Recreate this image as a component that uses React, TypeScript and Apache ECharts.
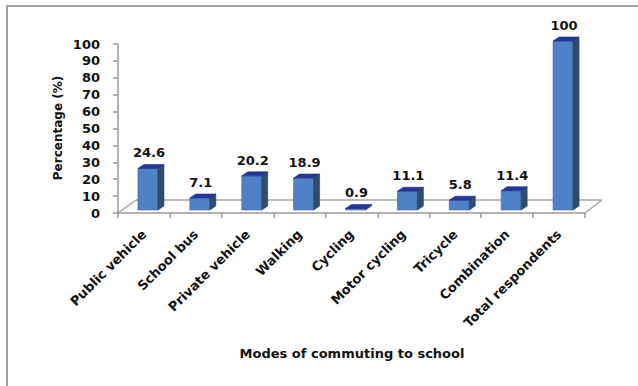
import React, { useEffect, useRef } from "react";
import * as echarts from "echarts";

const categories = [
  "Public vehicle",
  "School bus",
  "Private vehicle",
  "Walking",
  "Cycling",
  "Motor cycling",
  "Tricycle",
  "Combination",
  "Total respondents",
];
const percentages = [24.6, 7.1, 20.2, 18.9, 0.9, 11.1, 5.8, 11.4, 100];
const yTicks = { min: 0, max: 100, interval: 10 };

const FONT = "DejaVu Sans";

export default function App() {
  const ref = useRef<HTMLDivElement>(null);
  useEffect(() => {
    if (!ref.current) return;
    const chart = echarts.init(ref.current, null, { renderer: "svg" });

    const barW = 20;
    const dX = 6;
    const dY = -4;
    const frontX = -6;
    const frontY = -3;

    const option: any = {
      animation: false,
      backgroundColor: "#ffffff",
      grid: { left: 118, right: 53, top: 44, bottom: 173, containLabel: false },
      xAxis: {
        type: "category",
        data: categories,
        boundaryGap: true,
        axisLine: { show: true, lineStyle: { color: "#9a9a9a", width: 1.5 } },
        axisTick: { show: true, interval: 0, length: 5, lineStyle: { color: "#9a9a9a", width: 1.5 } },
        axisLabel: {
          interval: 0,
          rotate: 45,
          margin: 19,
          fontFamily: FONT,
          fontWeight: "bold",
          fontSize: 13,
          color: "#111111",
        },
      },
      yAxis: {
        type: "value",
        min: yTicks.min,
        max: yTicks.max,
        interval: yTicks.interval,
        splitLine: { show: false },
        axisLine: { show: true, lineStyle: { color: "#9a9a9a", width: 1.5 } },
        axisTick: { show: true, length: 5, lineStyle: { color: "#9a9a9a", width: 1.5 } },
        axisLabel: {
          margin: 18,
          fontFamily: FONT,
          fontWeight: "bold",
          fontSize: 13,
          color: "#111111",
        },
      },
      graphic: [
        {
          type: "rect",
          shape: { x: 7, y: 6, width: 660, height: 420 },
          style: { fill: "none", stroke: "#a0a0a0", lineWidth: 2 },
          silent: true,
        },
        {
          type: "text",
          x: 352,
          y: 353,
          style: {
            text: "Modes of commuting to school",
            font: `bold 13px "${FONT}"`,
            fill: "#111111",
            align: "center",
            verticalAlign: "middle",
          },
        },
        {
          type: "text",
          x: 58,
          y: 128,
          rotation: Math.PI / 2,
          style: {
            text: "Percentage (%)",
            font: `bold 12px "${FONT}"`,
            fill: "#111111",
            align: "center",
            verticalAlign: "middle",
          },
        },
      ],
      series: [
        {
          type: "custom",
          z: 1,
          data: [[0]],
          silent: true,
          renderItem: (params: any, api: any) => {
            const c0 = api.coord([0, 0]);
            const bw = api.size([1, 0])[0];
            const left = c0[0] - bw / 2;
            const right = left + bw * categories.length;
            const y0 = c0[1];
            const ls = { stroke: "#a6a6a6", lineWidth: 1.5, fill: "none" };
            return {
              type: "group",
              children: [
                { type: "line", shape: { x1: left + 18, y1: y0 - 13, x2: right + 17, y2: y0 - 13 }, style: ls },
                { type: "line", shape: { x1: left, y1: y0, x2: left + 18, y2: y0 - 13 }, style: ls },
                { type: "line", shape: { x1: right, y1: y0, x2: right + 17, y2: y0 - 13 }, style: ls },
              ],
            };
          },
        },
        {
          type: "custom",
          z: 2,
          data: percentages.map((v, i) => [i, v]),
          encode: { x: 0, y: 1 },
          renderItem: (params: any, api: any) => {
            const i = api.value(0);
            const v = api.value(1);
            const base = api.coord([i, 0]);
            const top = api.coord([i, v]);
            const x0 = base[0] + frontX;
            const x1 = x0 + barW;
            const yb = base[1] + frontY;
            const yt = top[1] + frontY;
            return {
              type: "group",
              children: [
                {
                  type: "rect",
                  shape: { x: x0, y: yt, width: barW, height: yb - yt },
                  style: { fill: "#4f81c6", stroke: "#3d6aa8", lineWidth: 0.6 },
                },
                {
                  type: "polygon",
                  shape: { points: [[x1, yt], [x1 + dX, yt + dY], [x1 + dX, yb + dY], [x1, yb]] },
                  style: { fill: "#2e4c6d", stroke: "#26405c", lineWidth: 0.6 },
                },
                {
                  type: "polygon",
                  shape: { points: [[x0, yt], [x1, yt], [x1 + dX, yt + dY], [x0 + dX, yt + dY]] },
                  style: { fill: "#22389a", stroke: "#1c2f85", lineWidth: 0.6 },
                },
                {
                  type: "text",
                  style: {
                    text: String(v),
                    x: x0 + barW / 2 + 1,
                    y: yt + dY - 5,
                    align: "center",
                    verticalAlign: "bottom",
                    font: `bold 13px "${FONT}"`,
                    fill: "#111111",
                  },
                },
              ],
            };
          },
        },
      ],
    };
    chart.setOption(option);
    return () => chart.dispose();
  }, []);
  return (
    <div
      ref={ref}
      style={{ position: "fixed", left: 0, top: 0, width: 638, height: 386 }}
    />
  );
}
